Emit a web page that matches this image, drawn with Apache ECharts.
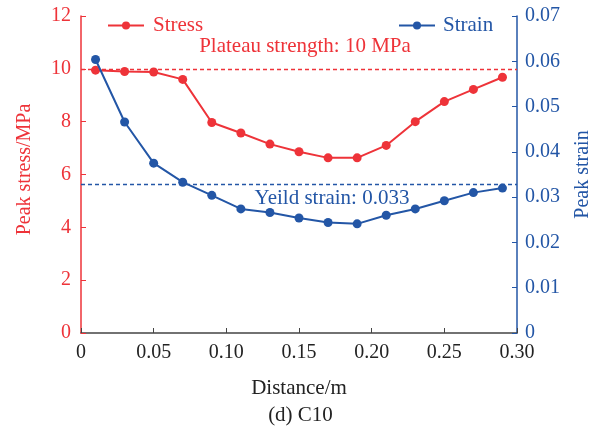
<!DOCTYPE html>
<html>
<head>
<meta charset="utf-8">
<script src="https://cdn.jsdelivr.net/npm/echarts@6/dist/echarts.min.js"></script>
<style>
    html, body { margin: 0; padding: 0; background: #fff; }
    #chart { width: 601px; height: 430px; }
</style>
</head>
<body>
<div id="chart"></div>
<script>
// distance along specimen (m)
var distance = [0.01, 0.03, 0.05, 0.07, 0.09, 0.11, 0.13, 0.15, 0.17, 0.19, 0.21, 0.23, 0.25, 0.27, 0.29];
// peak stress (MPa)
var stress = [9.95, 9.9, 9.88, 9.6, 7.97, 7.57, 7.15, 6.86, 6.63, 6.63, 7.1, 8.0, 8.76, 9.22, 9.68];
// peak strain
var strain = [0.0604, 0.0466, 0.0375, 0.0333, 0.0304, 0.0274, 0.0266, 0.0254, 0.0244, 0.0241, 0.026, 0.0274, 0.0292, 0.031, 0.032];
var plateauStrength = 10;
var yieldStrain = 0.0328;

var RED = "#ee3339";
var BLUE = "#2356a6";
var FONT = "Liberation Serif";

var myChart = echarts.init(document.getElementById("chart"));

var options = {
    animation: false,
    textStyle: { fontFamily: FONT },
    title: {
        text: "(d) C10",
        left: "center",
        top: 405,
        padding: 0,
        textStyle: { fontFamily: FONT, fontSize: 21, fontWeight: "normal", color: "#222" },
    },
    legend: [
        {
            data: ["Stress"],
            left: 102,
            top: 10,
            itemWidth: 36,
            itemHeight: 10,
            textStyle: { fontFamily: FONT, fontSize: 21, color: RED, padding: [0, 0, 0, 4] },
        },
        {
            data: ["Strain"],
            left: 393,
            top: 10,
            itemWidth: 36,
            itemHeight: 10,
            textStyle: { fontFamily: FONT, fontSize: 21, color: BLUE, padding: [0, 0, 0, 3] },
        },
    ],
    grid: {
        left: 81,
        right: 82,
        top: 16,
        bottom: 97,
    },
    xAxis: {
        type: "value",
        min: 0,
        max: 0.3,
        interval: 0.05,
        name: "Distance/m",
        nameLocation: "middle",
        nameGap: 45,
        nameTextStyle: { fontFamily: FONT, fontSize: 21, color: "#222" },
        axisLine: { lineStyle: { color: "#444", width: 1.5 } },
        axisTick: { inside: true, length: 5, lineStyle: { color: "#444" } },
        splitLine: { show: false },
        axisLabel: {
            fontFamily: FONT,
            fontSize: 20,
            color: "#222",
            margin: 10,
            formatter: function (v) { return v === 0 ? "0" : v.toFixed(2); },
        },
    },
    yAxis: [
        {
            type: "value",
            min: 0,
            max: 12,
            interval: 2,
            name: "Peak stress/MPa",
            nameLocation: "middle",
            nameGap: 46,
            nameTextStyle: { fontFamily: FONT, fontSize: 20, color: RED, padding: [0, 0, 0, 10] },
            axisLine: { show: true, lineStyle: { color: RED, width: 1.5 } },
            axisTick: { show: true, inside: true, length: 5, lineStyle: { color: RED } },
            splitLine: { show: false },
            axisLabel: { fontFamily: FONT, fontSize: 20, color: RED, margin: 10 },
        },
        {
            type: "value",
            min: 0,
            max: 0.07,
            interval: 0.01,
            position: "right",
            name: "Peak strain",
            nameLocation: "middle",
            nameGap: 56,
            nameRotate: 90,
            nameTextStyle: { fontFamily: FONT, fontSize: 20, color: BLUE },
            axisLine: { show: true, lineStyle: { color: BLUE, width: 1.5 } },
            axisTick: { show: true, inside: true, length: 5, lineStyle: { color: BLUE } },
            splitLine: { show: false },
            axisLabel: {
                fontFamily: FONT,
                fontSize: 20,
                color: BLUE,
                margin: 8,
                formatter: function (v) { return v === 0 ? "0" : v.toFixed(2); },
            },
        },
    ],
    series: [
        {
            name: "Stress",
            type: "line",
            yAxisIndex: 0,
            data: distance.map(function (d, i) { return [d, stress[i]]; }),
            symbol: "circle",
            symbolSize: 9,
            itemStyle: { color: RED },
            lineStyle: { color: RED, width: 2 },
            z: 3,
            markLine: {
                silent: true,
                symbol: "none",
                precision: 4,
                lineStyle: { color: RED, type: [4, 3], width: 1.3 },
                label: {
                    show: true,
                    position: "insideMiddleTop",
                    distance: 12,
                    offset: [6, 0],
                    formatter: "Plateau strength: 10 MPa",
                    fontFamily: FONT,
                    fontSize: 21,
                    color: RED,
                },
                data: [{ yAxis: plateauStrength, lineStyle: { color: RED, type: [4, 3], width: 1.3 } }],
            },
        },
        {
            name: "Strain",
            type: "line",
            yAxisIndex: 1,
            data: distance.map(function (d, i) { return [d, strain[i]]; }),
            symbol: "circle",
            symbolSize: 9,
            itemStyle: { color: BLUE },
            lineStyle: { color: BLUE, width: 2 },
            z: 4,
            markLine: {
                silent: true,
                symbol: "none",
                precision: 4,
                lineStyle: { color: BLUE, type: [4, 3], width: 1.3 },
                label: {
                    show: true,
                    position: "insideMiddleBottom",
                    distance: 4,
                    offset: [33, 0],
                    formatter: "Yeild strain: 0.033",
                    fontFamily: FONT,
                    fontSize: 21,
                    color: BLUE,
                },
                data: [{ yAxis: yieldStrain, lineStyle: { color: BLUE, type: [4, 3], width: 1.3 } }],
            },
        },
    ],
};

myChart.setOption(options);
</script>
</body>
</html>
